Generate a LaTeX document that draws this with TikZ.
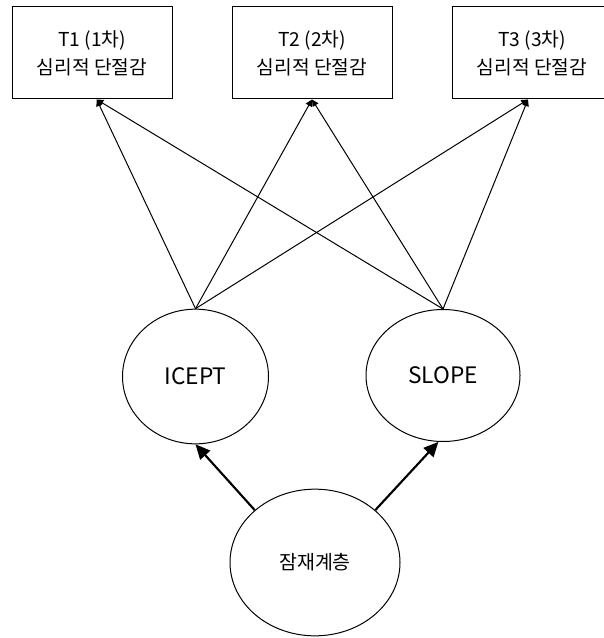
\documentclass[tikz,border=0pt]{standalone}
\usepackage{fontspec}
\setmainfont{Noto Sans CJK KR}
\usetikzlibrary{shapes.geometric}
\usetikzlibrary{arrows.meta}

\tikzset{
  wave/.style={draw, line width=0.75pt, minimum width=120pt, minimum height=69pt, inner sep=0pt, align=center, font=\fontsize{14.4}{21}\selectfont},
  factor/.style={draw, ellipse, line width=0.75pt, inner sep=0pt},
  load/.style={line width=0.75pt, -{Triangle[length=5pt,width=5pt]}},
  regr/.style={line width=1.6pt, -{Triangle[length=11pt,width=10pt]}}
}

\begin{document}
\begin{tikzpicture}[x=0.75pt,y=0.75pt,yscale=-1,xscale=1]
\useasboundingbox (0,0) rectangle (603,638);

%Shape: Rectangle [id:t1]
\draw (92,53) node [wave] (t1) {T1 (1차)\\심리적 단절감};
%Shape: Rectangle [id:t2]
\draw (312,53) node [wave] (t2) {T2 (2차)\\심리적 단절감};
%Shape: Rectangle [id:t3]
\draw (532,53) node [wave] (t3) {T3 (3차)\\심리적 단절감};

%Shape: Ellipse [id:icept]
\draw (195.5,376.5) node [factor, minimum width=109.5pt, minimum height=101pt] (icept) {\fontsize{17}{20}\selectfont ICEPT};
%Shape: Ellipse [id:slope]
\draw (443,375.5) node [factor, minimum width=115.5pt, minimum height=99pt] (slope) {\fontsize{17}{20}\selectfont SLOPE};
%Shape: Ellipse [id:class]
\draw (315,562.5) node [factor, minimum width=127.5pt, minimum height=110pt] (class) {\fontsize{14.6}{18}\selectfont 잠재계층};

%Straight Lines [id:loadings]
\draw [load] (icept.north) -- ([xshift=3.5pt]t1.south);
\draw [load] (icept.north) -- (t2.south);
\draw [load] (icept.north) -- ([xshift=-3pt]t3.south);
\draw [load] (slope.north) -- ([xshift=3.5pt]t1.south);
\draw [load] (slope.north) -- (t2.south);
\draw [load] (slope.north) -- ([xshift=-3pt]t3.south);

%Straight Lines [id:class paths]
\draw [regr] (class.139) -- (icept.south);
\draw [regr] (class.41) -- (slope.-94);

\end{tikzpicture}
\end{document}
